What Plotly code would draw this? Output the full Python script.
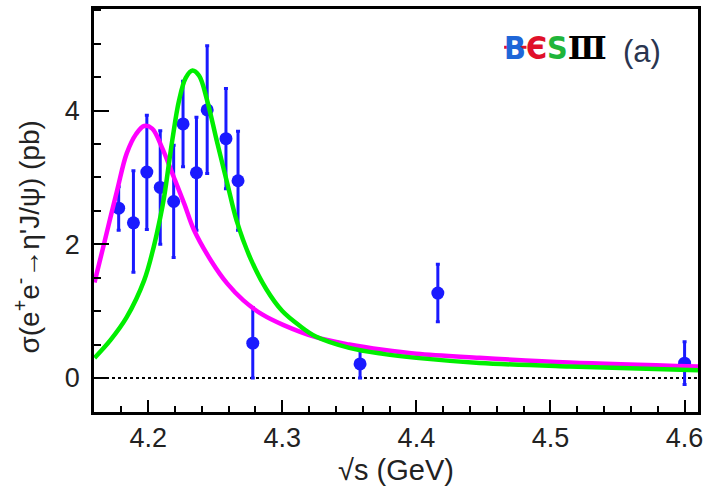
import plotly.graph_objects as go

# Measured cross sections (pb) at each c.m. energy (GeV)
energy = [4.178, 4.189, 4.199, 4.209, 4.219, 4.226, 4.236, 4.244, 4.258, 4.267,
          4.278, 4.358, 4.416, 4.600]
xsec = [2.54, 2.32, 3.08, 2.85, 2.64, 3.80, 3.07, 4.01, 3.58, 2.95,
        0.52, 0.21, 1.27, 0.22]
err_up = [0.32, 0.78, 0.85, 0.85, 0.84, 0.64, 0.83, 0.96, 0.75, 0.74,
          0.53, 0.20, 0.43, 0.32]
err_down = [0.33, 0.74, 0.86, 0.85, 0.84, 0.64, 0.86, 0.95, 0.75, 0.74,
            0.52, 0.21, 0.43, 0.32]

# Fit curve with the lower-mass resonance
fit1_x = [4.160, 4.167, 4.177, 4.184, 4.191, 4.197, 4.203, 4.210, 4.219, 4.227,
          4.234, 4.247, 4.259, 4.271, 4.285, 4.301, 4.325, 4.350, 4.375, 4.400,
          4.447, 4.514, 4.610]
fit1_y = [1.43, 2.00, 2.82, 3.36, 3.65, 3.77, 3.73, 3.46, 3.01, 2.60,
          2.22, 1.75, 1.41, 1.16, 0.95, 0.79, 0.61, 0.50, 0.42, 0.36,
          0.30, 0.23, 0.17]

# Fit curve with the higher-mass resonance
fit2_x = [4.160, 4.172, 4.184, 4.197, 4.204, 4.209, 4.212, 4.218, 4.223, 4.228,
          4.233, 4.238, 4.244, 4.251, 4.259, 4.266, 4.276, 4.288, 4.300, 4.313,
          4.325, 4.350, 4.375, 4.400, 4.447, 4.514, 4.610]
fit2_y = [0.30, 0.57, 0.91, 1.46, 1.95, 2.40, 2.72, 3.56, 4.15, 4.49,
          4.60, 4.52, 4.15, 3.56, 2.91, 2.35, 1.80, 1.33, 1.00, 0.78,
          0.62, 0.45, 0.36, 0.30, 0.225, 0.17, 0.115]

x_ticks = [4.2, 4.3, 4.4, 4.5, 4.6]
y_ticks = [0, 2, 4]

FONT = "Liberation Sans, Arial, Helvetica, sans-serif"
BLUE = "#1a1aff"

fig = go.Figure()

fig.add_hline(y=0, line=dict(color="black", width=2, dash="dot"), layer="below")

fig.add_trace(go.Scatter(
    x=energy, y=xsec, mode="markers",
    marker=dict(color=BLUE, size=13, line=dict(width=0)),
    error_y=dict(type="data", symmetric=False, array=err_up, arrayminus=err_down,
                 color=BLUE, thickness=3, width=2),
    showlegend=False,
))

fig.add_trace(go.Scatter(
    x=fit1_x, y=fit1_y, mode="lines", line=dict(color="#ff00ff", width=4.5, shape="spline"),
    showlegend=False,
))
fig.add_trace(go.Scatter(
    x=fit2_x, y=fit2_y, mode="lines", line=dict(color="#00ee00", width=4.5, shape="spline"),
    showlegend=False,
))

# Experiment logo and panel label
logo = ('<span style="color:#1e66d8">B</span>'
        '<span style="color:#e0102a">Є</span>'
        '<span style="color:#1fb53a">S</span>'
        '<span style="color:#000000;font-family:\'DejaVu Serif\'">Ⅲ</span>')
fig.add_annotation(xref="paper", yref="paper", x=0.676, y=0.904, xanchor="left", yanchor="middle",
                   text="<b>" + logo + "</b>", showarrow=False,
                   font=dict(family="DejaVu Sans Condensed, DejaVu Sans", size=32))
# red crossbar running through the B
fig.add_shape(type="line", xref="paper", yref="paper", x0=0.679, x1=0.716, y0=0.905, y1=0.905,
              line=dict(color="#e0102a", width=3))
fig.add_annotation(xref="paper", yref="paper", x=0.9076, y=0.894, xanchor="center", yanchor="middle",
                   text="(a)", showarrow=False,
                   font=dict(family=FONT, size=31, color="#2a3550"))

# Vertical axis title
fig.add_annotation(xref="paper", yref="paper", x=-0.1106, y=0.4335, xanchor="center", yanchor="middle",
                   textangle=-90, showarrow=False,
                   text="σ(e<sup>+</sup>e<sup>-</sup>→η'J/ψ) (pb)",
                   font=dict(family=FONT, size=28, color="#222222"))

fig.update_layout(
    width=709, height=497,
    margin=dict(l=94, r=9, t=6, b=85),
    paper_bgcolor="white", plot_bgcolor="white",
    font=dict(family=FONT, size=27, color="#222222"),
    xaxis=dict(
        range=[4.1596, 4.61],
        tickvals=x_ticks, ticktext=[f"{v:.1f}" for v in x_ticks],
        ticks="inside", ticklen=12, tickwidth=2, tickcolor="black",
        minor=dict(dtick=0.02, tick0=4.2, ticks="inside", ticklen=6, tickwidth=2, tickcolor="black"),
        showline=True, linecolor="black", linewidth=2.5, mirror=True,
        showgrid=False, zeroline=False,
        title=dict(text="√s (GeV)", font=dict(size=29), standoff=8),
    ),
    yaxis=dict(
        range=[-0.51, 5.52],
        tickvals=y_ticks,
        ticks="inside", ticklen=15, tickwidth=2, tickcolor="black",
        minor=dict(dtick=0.5, tick0=0, ticks="inside", ticklen=7, tickwidth=2, tickcolor="black"),
        showline=True, linecolor="black", linewidth=2.5, mirror=True,
        showgrid=False, zeroline=False,
        ticklabelstandoff=6,
    ),
)

fig.write_html("out.html")
